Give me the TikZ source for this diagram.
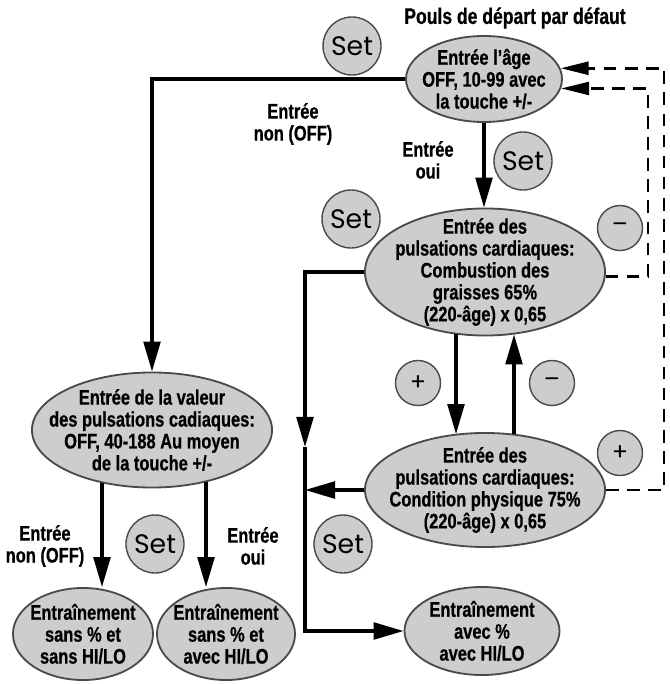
\documentclass[tikz,border=0pt]{standalone}
\usepackage{fontspec}
\setmainfont{Liberation Sans}[FakeStretch=0.78,BoldFeatures={FakeBold=0.6}]
\newfontfamily\setfont{Poppins}
\usepackage{tikz}
\usetikzlibrary{arrows.meta,calc,shapes.geometric}
\definecolor{shade}{HTML}{CDCDCD}
\definecolor{rim}{HTML}{4A4A4A}

\begin{document}
\begin{tikzpicture}[x=0.025cm,y=-0.025cm,
  every node/.style={font=\fontsize{15}{15.6}\selectfont\bfseries,align=center},
  oval/.style={ellipse,draw=rim,fill=shade,line width=1.3pt,inner sep=-1cm},
  btn/.style={circle,draw=rim,fill=shade,line width=1pt,minimum size=1.45cm,inner sep=0pt,font=\setfont\fontsize{19}{19}\selectfont},
  key/.style={circle,draw=rim,fill=shade,line width=1pt,minimum size=1.125cm,inner sep=0pt,font=\setfont\fontsize{17}{17}\selectfont},
  arr/.style={-{Triangle[length=7.5mm,width=4.2mm]},line width=2.2pt},
  dline/.style={-{Triangle[length=7mm,width=3.2mm]},line width=2.1pt,dash pattern=on 9pt off 6pt}]
  \useasboundingbox (0,0) rectangle (670,684);
  % title and ovals
  \node[font=\fontsize{16}{18}\selectfont\bfseries] (title) at (515,18) {Pouls de départ par défaut};
  \node[oval,minimum width=3.9cm,minimum height=2.15cm] (age) at (484,79) {Entrée l’âge\\OFF, 10-99 avec\\la touche +/-};
  \node[oval,minimum width=6cm,minimum height=3.175cm] (fat) at (485,272) {Entrée des\\pulsations cardiaques:\\Combustion des\\graisses 65\%\\(220-âge) x 0,65};
  \node[oval,minimum width=6cm,minimum height=2.85cm] (cond) at (485,490) {Entrée des\\pulsations cardiaques:\\Condition physique 75\%\\(220-âge) x 0,65};
  \node[oval,minimum width=6cm,minimum height=2.875cm] (value) at (152,430) {Entrée de la valeur\\des pulsations cadiaques:\\OFF, 40-188 Au moyen\\de la touche +/-};
  \node[oval,minimum width=3.5cm,minimum height=2.3cm] (nohilo) at (83,634) {Entraînement\\sans \% et\\sans HI/LO};
  \node[oval,minimum width=3.45cm,minimum height=2.3cm] (hilo) at (226,634) {Entraînement\\sans \% et\\avec HI/LO};
  \node[oval,minimum width=3.875cm,minimum height=2.2cm] (final) at (482,631) {Entraînement\\avec \%\\avec HI/LO};
  % buttons
  \node[btn] (setA) at (352,46) {Set};
  \node[btn] (setB) at (523,161) {Set};
  \node[btn] (setC) at (351,219) {Set};
  \node[btn] (setD) at (155,544) {Set};
  \node[btn] (setE) at (343,544) {Set};
  \node[key] (minA) at (620,228) {–};
  \node[key] (plusA) at (418,383) {+};
  \node[key] (minB) at (552,383) {–};
  \node[key] (plusB) at (620,453) {+};
  % labels
  \node (offA) at (293,124) {Entrée\\non (OFF)};
  \node (ouiA) at (428,160) {Entrée\\oui};
  \node (offB) at (45,546) {Entrée\\non (OFF)};
  \node (ouiB) at (253,546) {Entrée\\oui};
  % helper points
  \coordinate (trunk) at (305,447);
  \coordinate (inner) at (648,0);
  \coordinate (outer) at (664,0);
  \coordinate (fl) at ($(fat.south)+(-29,-2)$);
  \coordinate (fr) at ($(fat.south)+(29,-2)$);
  \coordinate (cl) at ($(cond.north)+(-29,2)$);
  \coordinate (cr) at ($(cond.north)+(29,2)$);
  \coordinate (vl) at ($(value.south)+(-50,-5)$);
  \coordinate (vr) at ($(value.south)+(54,-6)$);
  % connectors
  \draw[arr] (age.west) -| (value.north);
  \draw[arr] (age.south) -- (age.south |- fat.north);
  \draw[arr] (fl) -- (cl);
  \draw[arr] (cr) -- (fr);
  \draw[arr] (fat.west) -| (trunk);
  \draw[arr] (trunk) |- (final.west);
  \draw[arr] (cond.west) -- (cond.west -| trunk);
  \draw[arr] (vl) -- (vl |- nohilo.north);
  \draw[arr] (vr) -- (vr |- hilo.north);
  \draw[dline] (fat.-2) -| (inner |- age.-7) -- (age.-7);
  \draw[dline] (cond.east) -| (outer |- age.8) -- (age.8);
\end{tikzpicture}
\end{document}
